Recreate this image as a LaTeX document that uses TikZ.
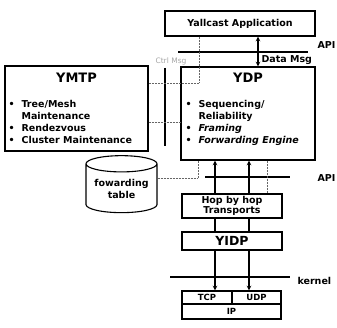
\documentclass[tikz,border=0pt]{standalone}
\usepackage{fontspec}
\setmainfont{DejaVu Sans}
\usetikzlibrary{shapes.geometric}
\newcommand{\bul}[1]{\makebox[13pt][l]{\textbullet}#1}
\newcommand{\cont}[1]{\makebox[13pt][l]{}#1}
\begin{document}
\begin{tikzpicture}[x=1pt, y=-1pt, >=stealth, line width=1.1pt,
  layer box/.style={draw, inner sep=0pt, font=\fontsize{9.5}{11}\selectfont\bfseries, align=center},
  title text/.style={font=\fontsize{13}{15}\selectfont\bfseries, inner sep=0pt},
  item text/.style={font=\fontsize{9.5}{12}\selectfont\bfseries, align=left, inner sep=0pt},
  side text/.style={font=\fontsize{9.5}{11}\selectfont\bfseries, inner sep=0pt},
  dot line/.style={densely dotted, line width=0.5pt, black!60}]
\useasboundingbox (0,0) rectangle (337,328);
\node [layer box, minimum width=150pt, minimum height=25pt](app) at (240,23.5) {Yallcast Application};
\node [layer box, minimum width=143pt, minimum height=85pt](ymtp) at (76.5,108.5) {};
\node [layer box, minimum width=134pt, minimum height=93pt](ydp) at (248,113.5) {};
\node [title text](ymtptitle) at (76.5,78) {YMTP};
\node [title text](ydptitle) at (248,78) {YDP};
\node [item text, anchor=north west](ymtplist) at (8,100) {\bul{Tree/Mesh}\\\cont{Maintenance}\\\bul{Rendezvous}\\\bul{Cluster Maintenance}};
\node [item text, anchor=north west](ydplist) at (185,100) {\bul{Sequencing/}\\\cont{Reliability}\\\bul{\itshape Framing}\\\bul{\itshape Forwarding Engine}};
\node [draw, cylinder, shape border rotate=90, aspect=0.3, minimum width=71pt, minimum height=57pt, inner sep=0pt, align=center, font=\fontsize{9.5}{12}\selectfont\bfseries](table) at (121.5,188.5) {fowarding\\table};
\node [layer box, minimum width=100pt, minimum height=24pt, font=\fontsize{9.5}{10.5}\selectfont\bfseries](hop) at (232,206) {Hop by hop\\Transports};
\node [layer box, minimum width=100pt, minimum height=18pt, font=\fontsize{12.5}{14}\selectfont\bfseries](yidp) at (232,241) {YIDP};
\node [layer box, minimum width=50pt, minimum height=13pt, font=\fontsize{8.5}{10}\selectfont\bfseries](tcp) at (207,297.5) {TCP};
\node [layer box, minimum width=49pt, minimum height=13pt, font=\fontsize{8.5}{10}\selectfont\bfseries](udp) at (256.5,297.5) {UDP};
\node [layer box, minimum width=99pt, minimum height=15pt, font=\fontsize{8.5}{10}\selectfont\bfseries](ip) at (231.5,311.5) {IP};
\node [side text, anchor=east](apitop) at (336,45) {API};
\node [side text, anchor=east](apibot) at (336,178) {API};
\node [side text, anchor=west](kernel) at (297,281) {kernel};
\node [font=\fontsize{7.5}{9}\selectfont, text=black!35, inner sep=0pt](ctrllabel) at (171,61) {Ctrl Msg};
\coordinate (datax) at (258,0);
\coordinate (ctrl) at (199,83);
\coordinate (link) at (165,122);
\coordinate (fwd) at (198,178);
\coordinate (hopdot) at (267,0);
\coordinate (lanea) at (215,0);
\coordinate (laneb) at (249,0);
\coordinate (api1l) at (178,52);
\coordinate (api1r) at (308,52);
\coordinate (api2l) at (205,177);
\coordinate (api2r) at (290,177);
\coordinate (kernl) at (170,277);
\coordinate (kernr) at (290,277);
\coordinate (vapit) at (165,68);
\coordinate (vapib) at (165,146);
\draw [<->] (app.south -| datax) -- node [side text, right=3pt, pos=0.8] {Data Msg} (ydp.north -| datax);
\draw (api1l) -- (api1r);
\draw (api2l) -- (api2r);
\draw (kernl) -- (kernr);
\draw (vapit) -- (vapib);
\draw [dot line] (app.south -| ctrl) -- (ctrl) -- (ymtp.east |- ctrl);
\draw [dot line] (ymtp.east |- link) -- (ydp.west |- link);
\draw [dot line] (table.east |- fwd) -- (fwd) -- (ydp.south -| fwd);
\draw [dot line] (ydp.south -| hopdot) -- (hop.north -| hopdot);
\draw [->] (hop.north -| lanea) -- (ydp.south -| lanea);
\draw [->] (hop.north -| laneb) -- (ydp.south -| laneb);
\draw (hop.south -| lanea) -- (yidp.north -| lanea);
\draw (hop.south -| laneb) -- (yidp.north -| laneb);
\draw [->] (yidp.south -| lanea) -- (tcp.north -| lanea);
\draw [->] (yidp.south -| laneb) -- (udp.north -| laneb);
\end{tikzpicture}
\end{document}
